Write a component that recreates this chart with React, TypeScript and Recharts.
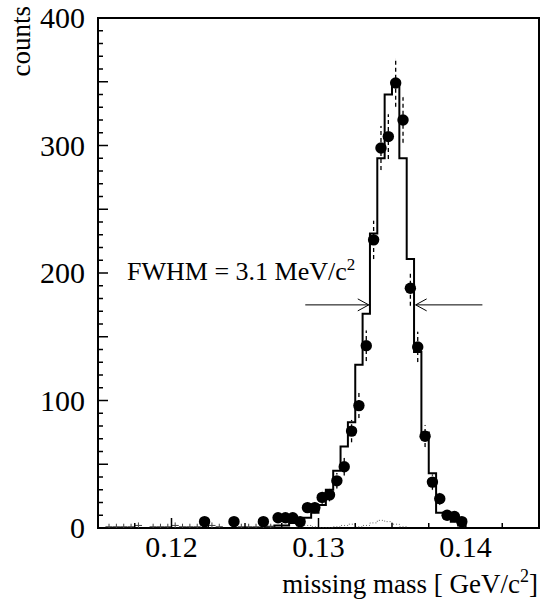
import React from 'react';
import {
  ComposedChart, Line, Scatter, ErrorBar, XAxis, YAxis, ReferenceArea, ReferenceLine,
} from 'recharts';

// Monte Carlo histogram (solid), lower bin edge in GeV/c^2 -> counts
const MC_EDGES = [
  0.126, 0.1265, 0.127, 0.1275, 0.128, 0.1285, 0.129, 0.1295, 0.13, 0.1305,
  0.131, 0.1315, 0.132, 0.1325, 0.133, 0.1335, 0.134, 0.1345, 0.135, 0.1355,
  0.136, 0.1365, 0.137, 0.1375, 0.138, 0.1385, 0.139, 0.1395, 0.14,
];
const MC_COUNTS = [
  0, 1, 2, 2, 4, 4, 8, 12, 18, 30,
  45, 64, 83, 128, 168, 231, 290, 340, 350, 290,
  211, 138, 75, 43, 12, 8, 5, 2, 0,
];

// background histogram (dotted), lower bin edge -> counts
const BG_EDGES = [
  0.1285, 0.129, 0.1295, 0.13, 0.1305, 0.131, 0.1315, 0.132, 0.1325, 0.133,
  0.1335, 0.134, 0.1345, 0.135, 0.1355, 0.136,
];
const BG_COUNTS = [1, 2, 1, 0, 0, 1, 2, 3, 1, 2, 4, 6, 5, 3, 1, 0];

// measured points (filled circles) with dashed error bars
const DATA_MASS = [
  0.12225, 0.12425, 0.12625, 0.12725, 0.12775, 0.12825, 0.12875, 0.12925, 0.12975, 0.13025,
  0.13075, 0.13125, 0.13175, 0.13225, 0.13275, 0.13325, 0.13375, 0.13425, 0.13475, 0.13525,
  0.13575, 0.13625, 0.13675, 0.13725, 0.13775, 0.13825, 0.13875, 0.13925, 0.13975,
];
const DATA_COUNTS = [
  5, 5, 5, 8, 8, 8, 5, 16, 16, 24,
  26, 37, 48, 76, 96, 143, 226, 298, 307, 349,
  320, 188, 142, 72, 36, 23, 10, 9, 5,
];
const DATA_ERRORS = [
  2.2, 2.2, 2.2, 2.8, 2.8, 2.8, 2.2, 4, 4, 4.9,
  5.1, 6.1, 6.9, 8.7, 9.8, 12, 15, 17.3, 17.5, 18.7,
  17.9, 13.7, 11.9, 8.5, 6, 4.8, 3.2, 3, 2.2,
];

// small crosses along the baseline (side-band events)
const CROSS_MASS = [
  0.11575, 0.11625, 0.11675, 0.11725, 0.11775, 0.11875, 0.11925, 0.11975, 0.12025, 0.12075,
  0.12125, 0.12175, 0.12275, 0.12325, 0.12475, 0.12525, 0.12575, 0.12625, 0.12675,
];
const CROSS_COUNTS = [1, 1, 1, 1, 2, 1, 1, 1, 2, 1, 1, 1, 2, 1, 1, 1, 1, 1, 1];

const X_TICKS = [
  0.1175, 0.12, 0.1225, 0.125, 0.1275, 0.13, 0.1325, 0.135, 0.1375, 0.14, 0.1425,
];
const X_LABEL_VALUES = [0.12, 0.13, 0.14];
const X_LABELS = ['0.12', '0.13', '0.14'];

const Y_TICKS = Array.from({ length: 41 }, (_, i) => i * 10);
const Y_LABEL_VALUES = [0, 100, 200, 300, 400];
const Y_LABELS = ['0', '100', '200', '300', '400'];

// FWHM arrows: [tail, head] in data coordinates
const FWHM_LEVEL = 175;
const FWHM_LEFT = [0.1291, 0.13342];
const FWHM_RIGHT = [0.14115, 0.13661];

const FONT = "'Liberation Serif', 'Times New Roman', serif";

const mcData = MC_EDGES.map((x, i) => ({ x, y: MC_COUNTS[i] }));
const bgData = BG_EDGES.map((x, i) => ({ x, y: BG_COUNTS[i] }));
const points = DATA_MASS.map((x, i) => ({ x, y: DATA_COUNTS[i], err: DATA_ERRORS[i] }));
const crosses = CROSS_MASS.map((x, i) => ({ x, y: CROSS_COUNTS[i] }));

function XTick(props: any) {
  const { x, y, payload } = props;
  const idx = X_LABEL_VALUES.findIndex(v => Math.abs(v - payload.value) < 1e-6);
  const len = idx >= 0 ? 10 : 5;
  return (
    <g>
      <line x1={x} x2={x} y1={y} y2={y - len} stroke="#000" strokeWidth={1.5} />
      {idx >= 0 && (
        <text x={x} y={y + 29} textAnchor="middle" fontFamily={FONT} fontSize={30} fill="#000">
          {X_LABELS[idx]}
        </text>
      )}
    </g>
  );
}

function YTick(props: any) {
  const { x, y, payload } = props;
  const v = payload.value;
  const idx = Y_LABEL_VALUES.indexOf(v);
  const len = v % 50 === 0 ? 10 : 5;
  return (
    <g>
      {v > 0 && v < 400 && (
        <line x1={x} x2={x + len} y1={y} y2={y} stroke="#000" strokeWidth={1.5} />
      )}
      {idx >= 0 && (
        <text x={x - 13} y={y + 10} textAnchor="end" fontFamily={FONT} fontSize={30} fill="#000">
          {Y_LABELS[idx]}
        </text>
      )}
    </g>
  );
}

function Dot(props: any) {
  const { cx, cy } = props;
  return <circle cx={cx} cy={cy} r={5.7} fill="#000" />;
}

function Cross(props: any) {
  const { cx, cy } = props;
  return (
    <g stroke="#444" strokeWidth={1}>
      <line x1={cx - 3.6} x2={cx + 3.6} y1={cy} y2={cy} />
      <line x1={cx} x2={cx} y1={cy - 3} y2={cy + 3} />
    </g>
  );
}

function Arrow(props: any) {
  const { x1, y1, x2, y2 } = props;
  const dir = x2 > x1 ? 1 : -1;
  return (
    <g stroke="#000" strokeWidth={1} fill="none">
      <line x1={x1} y1={y1} x2={x2} y2={y2} />
      <polyline points={`${x2 - dir * 11},${y2 - 6} ${x2},${y2} ${x2 - dir * 11},${y2 + 6}`} />
    </g>
  );
}

export default function App() {
  return (
    <div style={{ position: 'absolute', left: 0, top: 0, width: 540, height: 605, background: '#fff' }}>
      <ComposedChart width={540} height={605} margin={{ top: 18, right: 1, bottom: 0, left: 0 }}>
        <XAxis
          dataKey="x"
          type="number"
          domain={[0.115, 0.145]}
          allowDataOverflow
          ticks={X_TICKS}
          interval={0}
          tickSize={0}
          tickMargin={0}
          tickLine={false}
          axisLine={false}
          tick={<XTick />}
          height={77}
        />
        <YAxis
          type="number"
          domain={[0, 400]}
          allowDataOverflow
          ticks={Y_TICKS}
          interval={0}
          tickSize={0}
          tickMargin={0}
          tickLine={false}
          axisLine={false}
          tick={<YTick />}
          width={98}
        />
        <ReferenceArea x1={0.115} x2={0.145} y1={0} y2={400} fill="none" stroke="#000" strokeWidth={2} />
        <Line
          data={bgData}
          dataKey="y"
          type="stepAfter"
          stroke="#666"
          strokeWidth={1}
          strokeDasharray="1 2"
          dot={false}
          isAnimationActive={false}
        />
        <Line
          data={mcData}
          dataKey="y"
          type="stepAfter"
          stroke="#000"
          strokeWidth={2}
          dot={false}
          isAnimationActive={false}
        />
        <Scatter data={crosses} dataKey="y" shape={<Cross />} isAnimationActive={false} />
        <Scatter data={points} dataKey="y" shape={<Dot />} isAnimationActive={false}>
          <ErrorBar dataKey="err" direction="y" width={0} stroke="#000" strokeWidth={1.3} strokeDasharray="4 3" />
        </Scatter>
        <ReferenceLine
          segment={[{ x: FWHM_LEFT[0], y: FWHM_LEVEL }, { x: FWHM_LEFT[1], y: FWHM_LEVEL }]}
          shape={(p: any) => <Arrow {...p} />}
        />
        <ReferenceLine
          segment={[{ x: FWHM_RIGHT[0], y: FWHM_LEVEL }, { x: FWHM_RIGHT[1], y: FWHM_LEVEL }]}
          shape={(p: any) => <Arrow {...p} />}
        />
      </ComposedChart>

      {/* titles and annotation */}
      <svg width={540} height={605} style={{ position: 'absolute', left: 0, top: 0, pointerEvents: 'none' }}>
        <text transform="translate(30, 6) rotate(-90)" textAnchor="end" fontFamily={FONT} fontSize={27} fill="#000">
          counts
        </text>
        <text x={127} y={280} fontFamily={FONT} fontSize={26} fill="#000">
          FWHM = 3.1 MeV/c<tspan dy={-10} fontSize={17}>2</tspan>
        </text>
        <text x={538} y={593} textAnchor="end" fontFamily={FONT} fontSize={27} fill="#000">
          missing mass [ GeV/c<tspan dy={-11} fontSize={18}>2</tspan><tspan dy={11}>]</tspan>
        </text>
      </svg>
    </div>
  );
}
